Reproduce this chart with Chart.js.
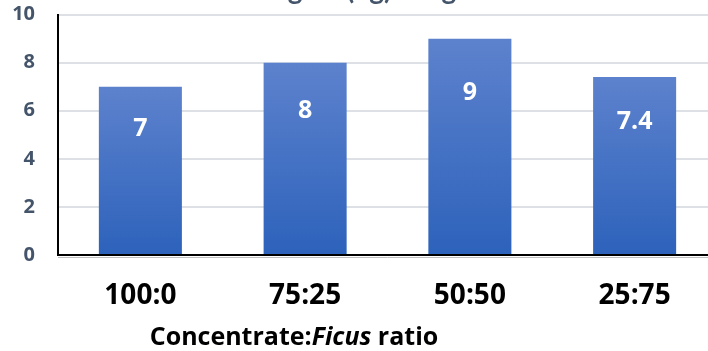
<!DOCTYPE html>
<html>
<head>
<meta charset="utf-8">
<title>Gain by concentrate:Ficus ratio</title>
<script src="https://cdn.jsdelivr.net/npm/chart.js@4.4.1/dist/chart.umd.min.js"></script>
<style>
  html, body { margin: 0; padding: 0; background: #ffffff; }
  #wrap { position: relative; width: 708px; height: 351px; overflow: hidden; }
  #c { position: absolute; left: 0; top: -30px; }
</style>
</head>
<body>
<div id="wrap"><canvas id="c" width="770" height="381"></canvas></div>
<script>
// Treatments (concentrate : Ficus) and the measured gain for each
const categories = ['100:0', '75:25', '50:50', '25:75'];
const gainValues = [7, 8, 9, 7.4];
const yAxisMin = 0;
const yAxisMax = 10;
const yAxisStep = 2;
const chartTitle = 'Total gain (kg) for goats';
const axisTitleParts = [
  { text: 'Concentrate:', italic: false },
  { text: 'Ficus', italic: true },
  { text: ' ratio', italic: false }
];

const TITLE_FONT = 'Lato, "Open Sans", sans-serif';
const FONT = '"Open Sans", Lato, sans-serif';

// Vertical gradient running from each bar's top down to its base
function barGradient(context) {
  const chart = context.chart;
  const y = chart.scales.y;
  if (!y || !context.parsed) return '#4472c4';
  const top = y.getPixelForValue(context.parsed.y);
  const base = y.getPixelForValue(0);
  if (!isFinite(top) || !isFinite(base) || top === base) return '#4472c4';
  const g = chart.ctx.createLinearGradient(0, top, 0, base);
  g.addColorStop(0, '#5d82cd');
  g.addColorStop(1, '#2d62bb');
  return g;
}

// White value labels set inside each bar
const valueLabels = {
  id: 'valueLabels',
  afterDatasetsDraw(chart) {
    const ctx = chart.ctx;
    const meta = chart.getDatasetMeta(0);
    const y = chart.scales.y;
    ctx.save();
    ctx.fillStyle = '#ffffff';
    ctx.font = 'bold 25px ' + FONT;
    ctx.textAlign = 'center';
    ctx.textBaseline = 'middle';
    meta.data.forEach((bar, i) => {
      const v = gainValues[i];
      ctx.fillText(String(v), bar.x, y.getPixelForValue(v * 0.75));
    });
    ctx.restore();
  }
};

// Soft grey shadow just under the category axis line
const axisShadow = {
  id: 'axisShadow',
  beforeDatasetsDraw(chart) {
    const ctx = chart.ctx;
    const area = chart.chartArea;
    ctx.save();
    ctx.strokeStyle = '#bfbfbf';
    ctx.lineWidth = 1;
    ctx.beginPath();
    ctx.moveTo(area.left, area.bottom + 2.5);
    ctx.lineTo(area.right, area.bottom + 2.5);
    ctx.stroke();
    ctx.restore();
  }
};

// X axis title with the genus name in italics
const axisTitle = {
  id: 'axisTitle',
  afterDraw(chart, args, opts) {
    const ctx = chart.ctx;
    ctx.save();
    ctx.fillStyle = '#000000';
    ctx.textBaseline = 'alphabetic';
    ctx.textAlign = 'left';
    const fontFor = p => (p.italic ? 'italic ' : '') + 'bold ' + opts.size + 'px ' + FONT;
    let total = 0;
    axisTitleParts.forEach(p => { ctx.font = fontFor(p); total += ctx.measureText(p.text).width; });
    let x = opts.centerX - total / 2;
    axisTitleParts.forEach(p => {
      ctx.font = fontFor(p);
      ctx.fillText(p.text, x, opts.baseline);
      x += ctx.measureText(p.text).width;
    });
    ctx.restore();
  }
};

new Chart(document.getElementById('c'), {
  type: 'bar',
  data: {
    labels: categories,
    datasets: [{
      data: gainValues,
      backgroundColor: barGradient,
      borderWidth: 0,
      categoryPercentage: 1,
      barPercentage: 0.504
    }]
  },
  options: {
    responsive: false,
    animation: false,
    devicePixelRatio: 1,
    layout: { padding: { left: 12, right: 53, top: 0, bottom: 37 } },
    plugins: {
      legend: { display: false },
      tooltip: { enabled: false },
      title: {
        display: true,
        text: chartTitle,
        color: '#44546a',
        font: { family: TITLE_FONT, size: 28, weight: 'bold' },
        padding: { top: 3, bottom: 8 }
      },
      axisTitle: { size: 25, centerX: 294, baseline: 375 }
    },
    scales: {
      x: {
        grid: { display: false, drawTicks: false },
        border: { display: true, color: '#000000', width: 2 },
        afterFit(scale) { scale.height = 59; },
        ticks: {
          color: '#000000',
          padding: 24,
          maxRotation: 0,
          font: { family: FONT, size: 28, weight: 'bold' }
        }
      },
      y: {
        min: yAxisMin,
        max: yAxisMax,
        afterFit(scale) { scale.width = 46; },
        grid: { color: '#dde1e6', lineWidth: 2, drawTicks: false },
        border: { display: true, color: '#000000', width: 2 },
        ticks: {
          stepSize: yAxisStep,
          color: '#44546a',
          padding: 23,
          font: { family: FONT, size: 20, weight: 'bold' }
        }
      }
    }
  },
  plugins: [axisShadow, valueLabels, axisTitle]
});
</script>
</body>
</html>
